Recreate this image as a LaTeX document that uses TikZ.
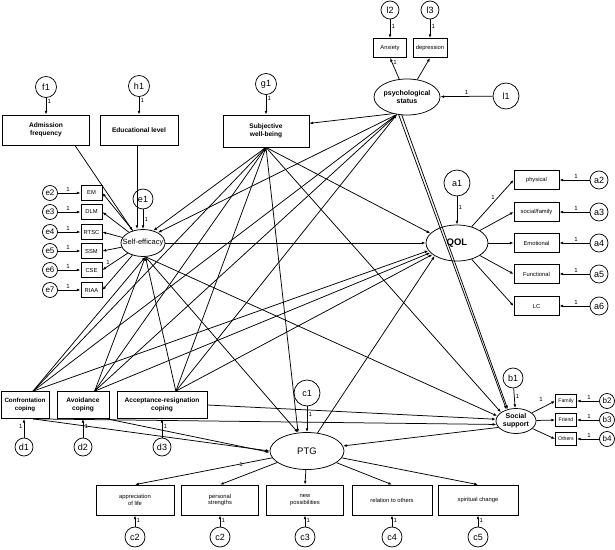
\documentclass[tikz,border=0pt]{standalone}
\usepackage{fontspec}
\setmainfont{Liberation Sans}
\usetikzlibrary{shapes.geometric,arrows.meta}
\begin{document}
\begin{tikzpicture}[x=1pt,y=-1pt,
  >={Latex[length=3.8pt,width=2.8pt]},
  line width=0.75pt,
  obs/.style={draw,rectangle,inner sep=0pt,align=center,font=\fontsize{6.6}{7.8}\selectfont\bfseries},
  sobs/.style={draw,rectangle,inner sep=0pt,align=center,font=\fontsize{5.8}{6.8}\selectfont},
  lat/.style={draw,ellipse,inner sep=0pt,align=center,font=\fontsize{7}{8}\selectfont\bfseries},
  err/.style={draw,circle,inner sep=0pt,minimum size=20pt,font=\fontsize{9}{10}\selectfont},
  serr/.style={draw,circle,inner sep=0pt,minimum size=15pt,font=\fontsize{8}{9}\selectfont},
  one/.style={font=\fontsize{6}{6}\selectfont,inner sep=1.2pt}
]
\useasboundingbox (0,0) rectangle (615,549);
% ---- top exogenous
\node[err,minimum size=21pt] (f1) at (46,87) {f1};
\node[err,minimum size=21pt] (h1) at (139,86) {h1};
\node[err,minimum size=21pt] (g1) at (266,84) {g1};
\node[obs,minimum width=87pt,minimum height=30pt] (AF) at (46,130) {Admission\\frequency};
\node[obs,minimum width=78pt,minimum height=30pt] (EL) at (139,130) {Educational level};
\node[obs,minimum width=86pt,minimum height=32pt] (SWB) at (266,131) {Subjective\\well-being};
% ---- psychological status
\node[err,minimum size=18pt] (l2) at (390,10) {l2};
\node[err,minimum size=18pt] (l3) at (430,10) {l3};
\node[sobs,minimum width=33pt,minimum height=19pt] (Anx) at (390,48) {Anxiety};
\node[sobs,minimum width=34pt,minimum height=19pt] (Dep) at (430,48) {depression};
\node[lat,minimum width=64pt,minimum height=36pt] (PS) at (407,97) {psychological\\status};
\node[err,minimum size=26pt] (l1) at (506,96) {l1};
% ---- QOL
\node[lat,minimum width=62pt,minimum height=36pt,font=\fontsize{9.5}{10}\selectfont\bfseries] (QOL) at (457,243) {QOL};
\node[err,minimum size=26pt] (a1) at (457,183) {a1};
\foreach \n/\t/\y/\e in {phy/physical/180/a2, soc/social\slash family/212/a3, emo/Emotional/243/a4, fun/Functional/274/a5, lc/LC/306/a6}{
  \node[sobs,minimum width=45pt,minimum height=19pt] (\n) at (536.5,\y) {\t};
  \node[err,minimum size=18pt] (\e) at (599,\y) {\e};
  \draw[->] (\e) -- node[one,above,pos=0.45]{1} (\n);
  \draw[->] (QOL) -- (\n.west);
}
% ---- self-efficacy
\node[lat,minimum width=44pt,minimum height=27pt,font=\fontsize{7.5}{8}\selectfont] (SE) at (143,243) {\makebox[0pt]{Self-efficacy}};
\node[err] (e1) at (143,199) {e1};
\foreach \n/\y/\e in {EM/193/e2, DLM/212/e3, RTSC/232/e4, SSM/251/e5, CSE/270/e6, RIAA/290/e7}{
  \node[sobs,minimum width=21pt,minimum height=15pt] (\n) at (91.5,\y) {\n};
  \node[serr] (\e) at (50,\y) {\e};
  \draw[->] (\e) -- node[one,above,pos=0.45]{1} (\n);
  \draw[->] (SE) -- (\n.east);
}
% ---- coping
\node[obs,minimum width=48pt,minimum height=27pt,font=\fontsize{6.2}{7.6}\selectfont\bfseries] (Conf) at (25,405) {Confrontation\\coping};
\node[obs,minimum width=52pt,minimum height=27pt] (Avoid) at (83,405) {Avoidance\\coping};
\node[obs,minimum width=90pt,minimum height=27pt] (Accept) at (162,405) {Acceptance-resignation\\coping};
\node[err,minimum size=18pt] (d1) at (24,447) {d1};
\node[err,minimum size=18pt] (d2) at (83,447) {d2};
\node[err,minimum size=18pt] (d3) at (162,447) {d3};
% ---- PTG
\node[err,minimum size=26pt] (c1) at (307,393) {c1};
\node[lat,minimum width=74pt,minimum height=37pt,font=\fontsize{9.5}{10}\selectfont] (PTG) at (307,451) {PTG};
\foreach \n/\t/\x/\w/\e in {app/{appreciation\\of life}/135/78/c2, per/{personal\\strengths}/220/77/c2, new/{new\\possibilities}/305/77/c3, rel/{relation to others}/392/80/c4, spi/{spiritual change}/478/80/c5}{
  \node[sobs,minimum width=\w pt,minimum height=30pt] (\n) at (\x,500) {\t};
  \node[err] (\n e) at (\x,537) {\e};
  \draw[->] (\n e) -- node[one,right,pos=0.55]{1} (\n);
  \draw[->] (PTG) -- (\n.north);
}
% ---- social support
\node[err] (b1) at (513,378) {b1};
\node[lat,minimum width=40pt,minimum height=25pt] (SS) at (516,421) {Social\\support};
\foreach \n/\y/\e in {Family/401/b2, Friend/420/b3, Others/439/b4}{
  \node[sobs,minimum width=21pt,minimum height=13pt,font=\fontsize{5.2}{6}\selectfont] (\n) at (566,\y) {\n};
  \node[serr] (\e) at (607,\y) {\e};
  \draw[->] (\e) -- node[one,above,pos=0.45]{1} (\n);
  \draw[->] (SS) -- (\n.west);
}
% ---- measurement arrows with 1
\draw[->] (f1) -- node[one,right,pos=0.2]{1} (AF);
\draw[->] (h1) -- node[one,right,pos=0.2]{1} (EL);
\draw[->] (g1) -- node[one,right,pos=0.2]{1} (SWB);
\draw[->] (l2) -- node[one,right,pos=0.4]{1} (Anx);
\draw[->] (l3) -- node[one,right,pos=0.4]{1} (Dep);
\draw[->] (PS) -- node[one,right,pos=0.8]{1} (Anx.south);
\draw[->] (PS) -- (Dep.south);
\draw[->] (l1) -- node[one,above,pos=0.5]{1} (PS);
\draw[->] (a1) -- node[one,right,pos=0.4]{1} (QOL);
\draw[->] (e1) -- node[one,right,pos=0.5]{1} (SE.north);
\draw[->] (d1) -- node[one,left,pos=0.6]{1} (Conf.south -| d1);
\draw[->] (d2) -- node[one,right,pos=0.6]{1} (Avoid);
\draw[->] (d3) -- node[one,right,pos=0.6]{1} (Accept);
\draw[->] (c1) -- node[one,right,pos=0.3]{1} (PTG);
\draw[->] (b1) -- node[one,right,pos=0.4]{1} (SS);
\node[one] at (108,262) {1};
\node[one] at (541,399) {1};
\node[one] at (241,464) {1};
\node[one] at (493,197) {1};
% ---- structural paths
\draw[->] (AF.-28) -- (SE.130);
\draw[->] ([xshift=-2pt]EL.south) -- ([xshift=-6pt]SE.north);
\draw[->] (SWB.south) -- (SE.50);
\draw[->] (PS.-120) -- (SE.35);
\draw[->] (PS.-130) -- (SWB.10);
\draw[->] (SE.east) -- (QOL.west);
\draw[->] (SWB.south) -- (QOL.160);
\draw[->] (SWB.south) -- (PTG.116);
\draw[->] (SWB.south) -- (SS.150);
\draw[->] (SE.-80) -- (PTG.116);
\draw[->] (SE.-80) -- (SS.165);
\draw[->] (Conf.60) -- (SE.-80);
\draw[->] (Avoid.50) -- (SE.-80);
\draw[->] (Accept.45) -- (SE.-80);
\draw[->] (Conf.60) -- (SWB.south);
\draw[->] (Avoid.50) -- (SWB.south);
\draw[->] (Accept.45) -- (SWB.south);
\draw[->] (Conf.60) -- (PS.-120);
\draw[->] (Avoid.50) -- (PS.-120);
\draw[->] (Accept.45) -- (PS.-120);
\draw[->] (Conf.60) -- (QOL.195);
\draw[->] (Avoid.50) -- (QOL.200);
\draw[->] (Accept.45) -- (QOL.205);
\draw[->] (PTG.60) -- (QOL.210);
\draw[->] (PS.-115) -- (SS.130);
\draw[->] ([xshift=3pt]PS.-115) -- (SS.125);
\draw[->] (Conf.-60) -- (PTG.180);
\draw[->] (Avoid.-30) -- (PTG.182);
\draw[->] (Conf.-60) -- (SS.190);
\draw[->] (Accept.east) -- (SS.175);
\draw[->] (SS.200) -- (PTG.8);
\end{tikzpicture}
\end{document}
